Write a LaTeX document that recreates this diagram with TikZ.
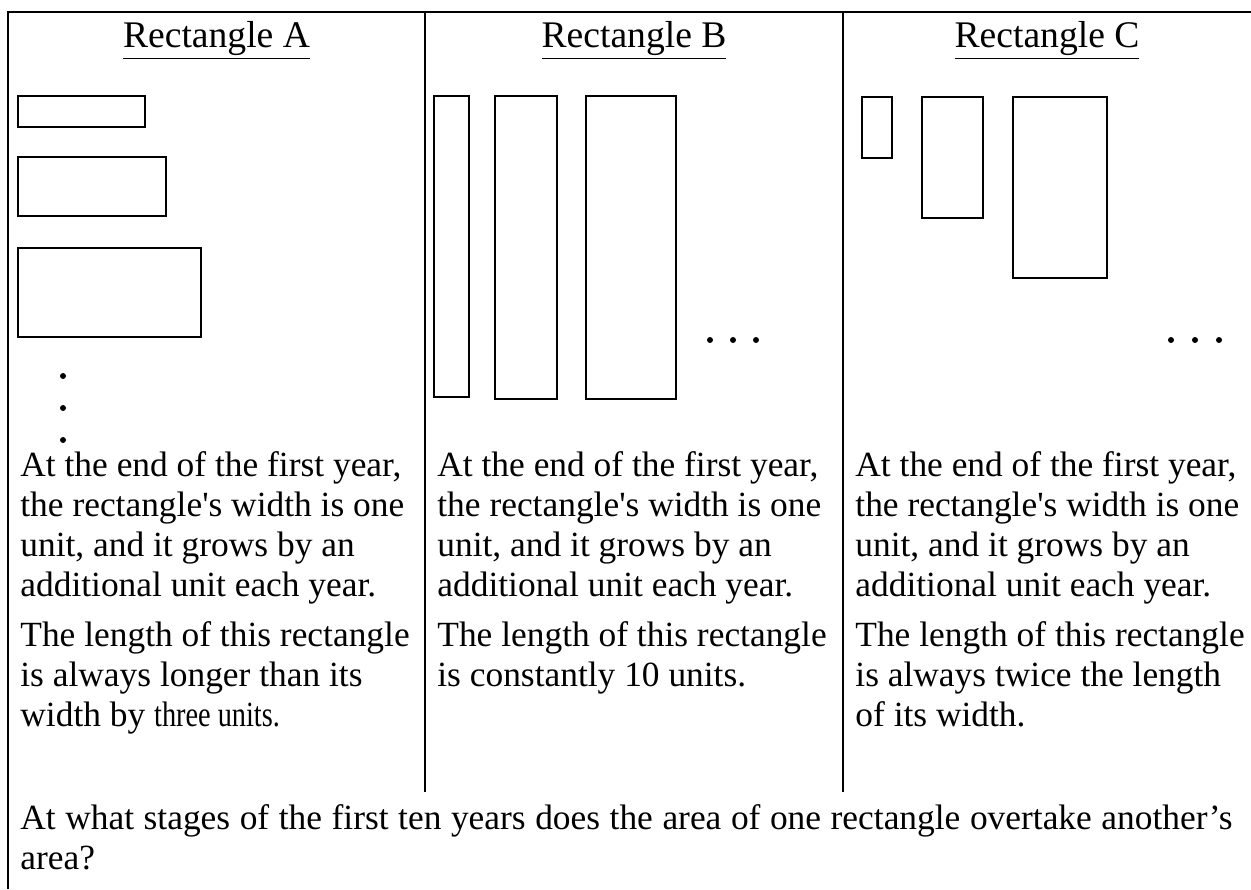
\documentclass[tikz,border=0pt]{standalone}
\usepackage{fontspec}
\setmainfont{Liberation Serif}
\begin{document}
\begin{tikzpicture}[x=0.5pt,y=-0.5pt,
  txt/.style={anchor=base west,inner sep=0pt,font=\fontsize{17.7}{20}\selectfont},
  ttl/.style={anchor=base,inner sep=0pt,font=\fontsize{18.8}{22}\selectfont},
  frameline/.style={line width=1.1pt},
  box/.style={draw,line width=0.8pt},
  dotf/.style={fill=black}]
\useasboundingbox (0,0) rectangle (1251,889);
% frame and dividers
\draw[frameline] (8,889) -- (8,12) -- (1251,12);
\draw[frameline] (425,12) -- (425,792);
\draw[frameline] (843,12) -- (843,792);
% titles
\node[ttl] (tA) at (216.5,47) {\underline{Rectangle A}};
\node[ttl] (tB) at (634,47) {\underline{Rectangle B}};
\node[ttl] (tC) at (1047,47) {\underline{Rectangle C}};
% rectangles A
\draw[box] (18,96) rectangle (145,127);
\draw[box] (18,157) rectangle (166,216);
\draw[box] (18,248) rectangle (201,337);
\fill[dotf] (63,376) circle (3);
\fill[dotf] (63,408) circle (3);
\fill[dotf] (63,440) circle (3);
% rectangles B
\draw[box] (434,96) rectangle (469,397);
\draw[box] (495,96) rectangle (557,399);
\draw[box] (586,96) rectangle (676,399);
\fill[dotf] (710,340) circle (3);
\fill[dotf] (733,340) circle (3);
\fill[dotf] (756,340) circle (3);
% rectangles C
\draw[box] (862,97) rectangle (892,158);
\draw[box] (922,97) rectangle (983,218);
\draw[box] (1013,97) rectangle (1107,278);
\fill[dotf] (1171,340) circle (3);
\fill[dotf] (1195,340) circle (3);
\fill[dotf] (1219,340) circle (3);
% column A text
\node[txt] (a1) at (20,476) {At the end of the first year,};
\node[txt] (a2) at (20,516) {the rectangle\textquotesingle s width is one};
\node[txt] (a3) at (20,556) {unit, and it grows by an};
\node[txt] (a4) at (20,596) {additional unit each year.};
\node[txt] (a5) at (20,646) {The length of this rectangle};
\node[txt] (a6) at (20,686) {is always longer than its};
\node[txt] (a7) at (20,726) {width by \scalebox{0.8}[1]{three units.}};
% column B text
\node[txt] (b1) at (437,476) {At the end of the first year,};
\node[txt] (b2) at (437,516) {the rectangle\textquotesingle s width is one};
\node[txt] (b3) at (437,556) {unit, and it grows by an};
\node[txt] (b4) at (437,596) {additional unit each year.};
\node[txt] (b5) at (437,646) {The length of this rectangle};
\node[txt] (b6) at (437,686) {is constantly 10 units.};
% column C text
\node[txt] (c1) at (855,476) {At the end of the first year,};
\node[txt] (c2) at (855,516) {the rectangle\textquotesingle s width is one};
\node[txt] (c3) at (855,556) {unit, and it grows by an};
\node[txt] (c4) at (855,596) {additional unit each year.};
\node[txt] (c5) at (855,646) {The length of this rectangle};
\node[txt] (c6) at (855,686) {is always twice the length};
\node[txt] (c7) at (855,726) {of its width.};
% question
\node[txt] (q1) at (20,829) {\hbox to 606pt{At what stages of the first ten years does the area of one rectangle overtake another’s}};
\node[txt] (q2) at (20,869) {area?};
\end{tikzpicture}
\end{document}
